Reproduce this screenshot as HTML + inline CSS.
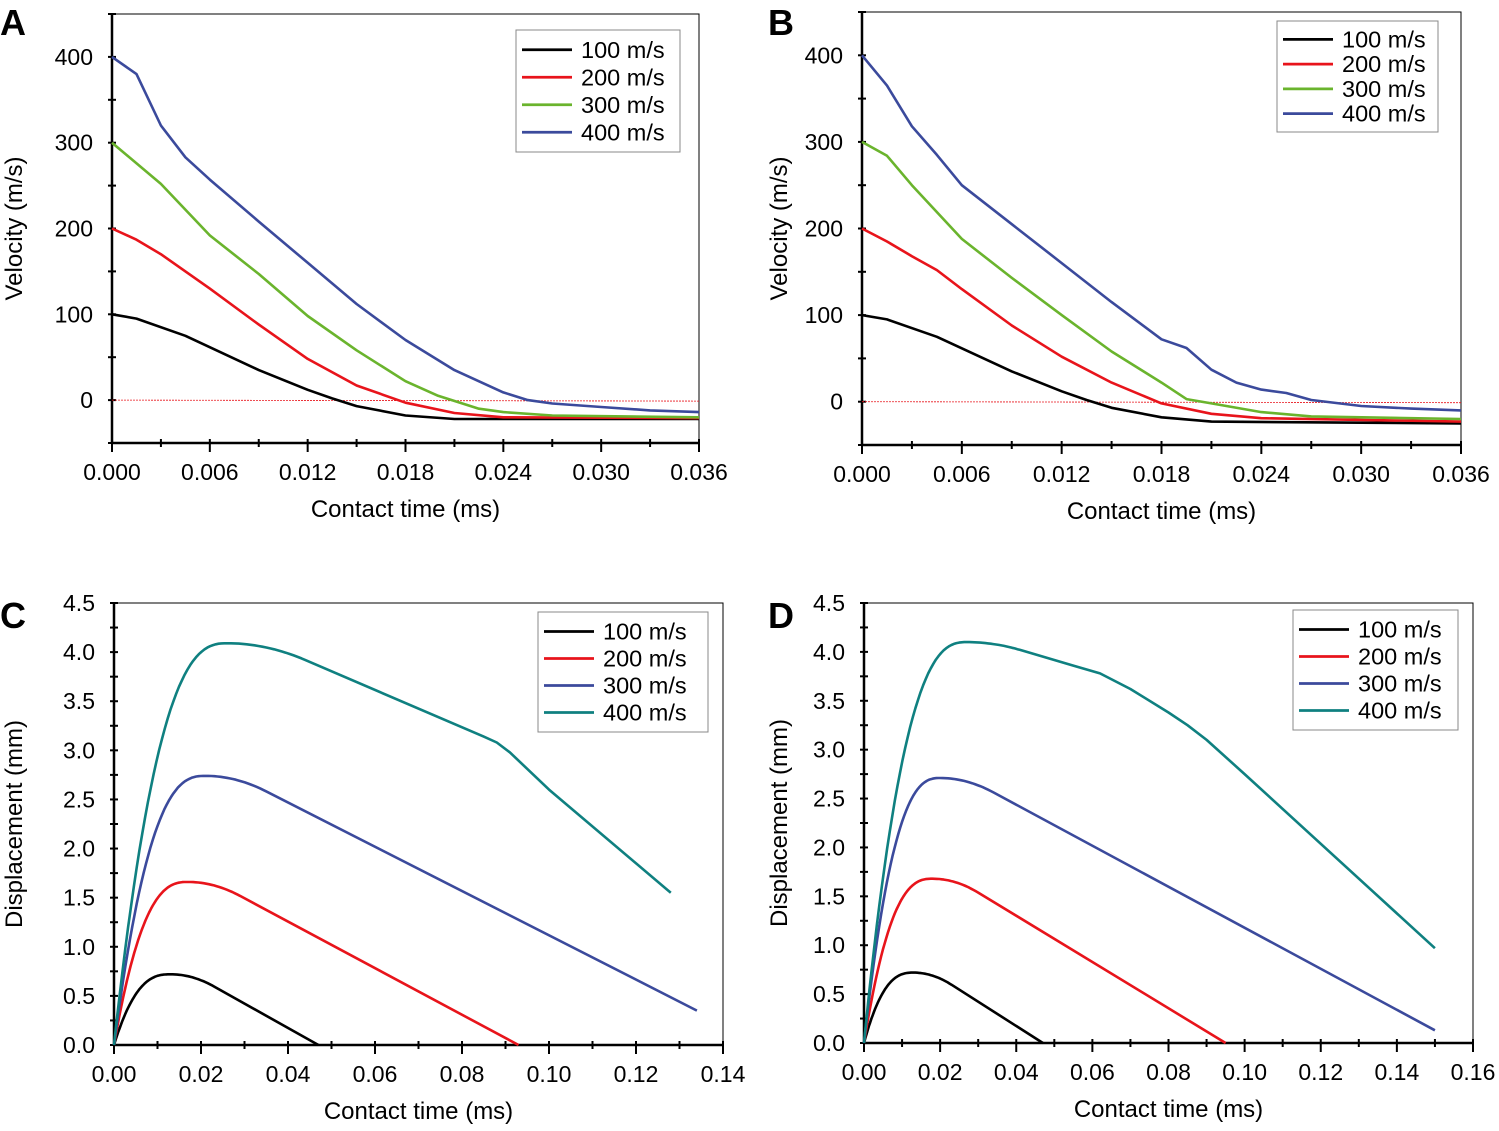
<!DOCTYPE html>
<html><head><meta charset="utf-8"><style>
body{margin:0;background:#fff;}
svg{display:block;font-family:"Liberation Sans",Arial,sans-serif;}
</style></head><body>
<svg id="s" width="1499" height="1131" viewBox="0 0 1499 1131" xmlns="http://www.w3.org/2000/svg"></svg>
<script>
const S=document.getElementById('s');let h='';
const C={k:'#000',r:'#e8141b',g:'#6ab42d',b:'#3b4a9c',t:'#0f8080'};
function panel(p){
 const X=v=>p.l+(v-p.x0)/(p.x1-p.x0)*(p.r-p.l), Y=v=>p.b-(v-p.y0)/(p.y1-p.y0)*(p.b-p.t);
 h+=`<rect x="${p.l}" y="${p.t}" width="${p.r-p.l}" height="${p.b-p.t}" fill="none" stroke="#000" stroke-width="1"/>`;
 h+=`<line x1="${p.l}" y1="${p.t}" x2="${p.l}" y2="${p.b}" stroke="#000" stroke-width="2.5"/>`;
 h+=`<line x1="${p.l}" y1="${p.b}" x2="${p.r}" y2="${p.b}" stroke="#000" stroke-width="2.5"/>`;
 p.yt.forEach((v,i)=>{const y=Y(v);h+=`<line x1="${p.l-4}" y1="${y}" x2="${p.l+4}" y2="${y}" stroke="#000" stroke-width="2"/>`;
  if(p.yl[i]!=null)h+=`<text x="${p.l-19}" y="${y+8}" font-size="23" text-anchor="end">${p.yl[i]}</text>`;});
 p.xt.forEach((v,i)=>{const x=X(v);h+=`<line x1="${x}" y1="${p.b-4}" x2="${x}" y2="${p.b+(p.xl[i]!=null?9:4)}" stroke="#000" stroke-width="2"/>`;
  if(p.xl[i]!=null)h+=`<text x="${x}" y="${p.b+37}" font-size="23" text-anchor="middle">${p.xl[i]}</text>`;});
 if(p.zero)h+=`<line x1="${p.l}" y1="${Y(0)}" x2="${p.r}" y2="${Y(0)+1}" stroke="#e8141b" stroke-width="0.8" stroke-dasharray="2,1"/>`;
 p.ser.forEach(s=>{h+=`<polyline fill="none" stroke="${C[s[0]]}" stroke-width="2.6" stroke-linejoin="round" points="${s[1].map(q=>X(q[0]).toFixed(1)+','+Y(q[1]).toFixed(1)).join(' ')}"/>`;});
 const L=p.leg;h+=`<rect x="${L[0]}" y="${L[1]}" width="${L[2]}" height="${L[3]}" fill="#fff" stroke="#888" stroke-width="1"/>`;
 const dy=(L[3]-12)/4;
 p.ser.forEach((s,i)=>{const y=L[1]+6+dy*(i+0.5);h+=`<line x1="${L[0]+6}" y1="${y}" x2="${L[0]+56}" y2="${y}" stroke="${C[s[0]]}" stroke-width="2.8"/><text x="${L[0]+65}" y="${y+8}" font-size="23.5">${s[2]}</text>`;});
 h+=`<text x="${(p.l+p.r)/2}" y="${p.b+74}" font-size="24" text-anchor="middle">Contact time (ms)</text>`;
 h+=`<text transform="translate(${p.yx},${(p.t+p.b)/2}) rotate(-90)" font-size="24" text-anchor="middle">${p.ylab}</text>`;
 h+=`<text x="${p.lx}" y="${p.ly}" font-size="36" font-weight="bold">${p.let}</text>`;
}
function rng(a,b,s){const r=[];for(let v=a;v<=b+1e-9;v+=s)r.push(+v.toFixed(6));return r;}
function disp(tp,pk,te,ye,d,rest){
 const r=[];for(let i=0;i<=40;i++){const u=i/40;r.push([tp*u,pk*(1-Math.pow(1-u,2.6))]);}
 const m=(ye-pk)/(te-tp-d/2),a=-m/(2*d);
 for(let i=1;i<=20;i++){const t=tp+d*i/20;r.push([t,pk-a*(t-tp)*(t-tp)]);}
 r.push([te,ye]);return r.concat(rest||[]);}
const vx=rng(0,0.036,0.003),vxl=vx.map((v,i)=>i%2==0?v.toFixed(3):null);
const vy=rng(-50,450,50),vyl=vy.map(v=>(v>=0&&v%100==0)?v:null);
const A100=[[0,100],[0.0015,95],[0.0045,75],[0.009,35],[0.012,12],[0.0135,2],[0.015,-7],[0.018,-18],[0.021,-22],[0.036,-22]];
const A200=[[0,200],[0.0015,187],[0.003,170],[0.006,130],[0.009,88],[0.012,48],[0.015,17],[0.018,-3],[0.021,-15],[0.024,-20],[0.036,-21]];
panel({l:112,r:699,t:14,b:443,x0:0,x1:0.036,y0:-50,y1:450,xt:vx,xl:vxl,yt:vy,yl:vyl,zero:1,leg:[516,30,164,122],yx:22,ylab:'Velocity (m/s)',let:'A',lx:0,ly:35,
 ser:[['k',A100,'100 m/s'],['r',A200,'200 m/s'],
 ['g',[[0,300],[0.003,252],[0.006,192],[0.009,147],[0.012,98],[0.015,58],[0.018,22],[0.02,5],[0.0225,-10],[0.024,-14],[0.027,-18],[0.036,-20]],'300 m/s'],
 ['b',[[0,400],[0.0015,380],[0.003,320],[0.0045,283],[0.006,257],[0.009,208],[0.012,160],[0.015,112],[0.018,70],[0.021,35],[0.024,9],[0.0255,0],[0.027,-4],[0.03,-8],[0.033,-12],[0.036,-14]],'400 m/s']]});
panel({l:862,r:1461,t:12,b:445,x0:0,x1:0.036,y0:-50,y1:450,xt:vx,xl:vxl,yt:vy,yl:vyl,zero:1,leg:[1277,21,161,111],yx:787,ylab:'Velocity (m/s)',let:'B',lx:768,ly:35,
 ser:[['k',[[0,100],[0.0015,95],[0.0045,75],[0.009,35],[0.012,12],[0.0135,2],[0.015,-7],[0.018,-18],[0.021,-23],[0.036,-25]],'100 m/s'],
 ['r',[[0,200],[0.0015,185],[0.003,168],[0.0045,152],[0.006,130],[0.009,88],[0.012,52],[0.015,22],[0.018,-2],[0.021,-14],[0.024,-19],[0.036,-23]],'200 m/s'],
 ['g',[[0,300],[0.0015,284],[0.003,250],[0.006,188],[0.009,143],[0.012,100],[0.015,58],[0.018,22],[0.0195,3],[0.021,-2],[0.024,-12],[0.027,-17],[0.036,-20]],'300 m/s'],
 ['b',[[0,400],[0.0015,365],[0.003,318],[0.0045,285],[0.006,250],[0.009,205],[0.012,160],[0.015,115],[0.018,72],[0.0195,62],[0.021,37],[0.0225,22],[0.024,14],[0.0255,10],[0.027,2],[0.03,-5],[0.033,-8],[0.036,-10]],'400 m/s']]});
const dy=rng(0,4.5,0.25),dyl=dy.map((v,i)=>i%2==0?v.toFixed(1):null);
const cx=rng(0,0.14,0.01),cxl=cx.map((v,i)=>i%2==0?v.toFixed(2):null);
panel({l:114,r:723,t:603,b:1045,x0:0,x1:0.14,y0:0,y1:4.5,xt:cx,xl:cxl,yt:dy,yl:dyl,leg:[538,612,170,120],yx:22,ylab:'Displacement (mm)',let:'C',lx:0,ly:628,
 ser:[['k',disp(0.013,0.72,0.047,0,0.01),'100 m/s'],
 ['r',disp(0.017,1.66,0.093,0,0.012),'200 m/s'],
 ['b',disp(0.021,2.74,0.134,0.35,0.014),'300 m/s'],
 ['t',disp(0.026,4.09,0.085,3.14,0.018,[[0.088,3.08],[0.091,2.98],[0.1,2.6],[0.128,1.55]]),'400 m/s']]});
const dx=rng(0,0.16,0.01),dxl=dx.map((v,i)=>i%2==0?v.toFixed(2):null);
panel({l:864,r:1473,t:603,b:1043,x0:0,x1:0.16,y0:0,y1:4.5,xt:dx,xl:dxl,yt:dy,yl:dyl,leg:[1293,610,165,120],yx:787,ylab:'Displacement (mm)',let:'D',lx:768,ly:628,
 ser:[['k',disp(0.013,0.72,0.047,0,0.01),'100 m/s'],
 ['r',disp(0.018,1.68,0.095,0,0.012),'200 m/s'],
 ['b',disp(0.02,2.71,0.15,0.13,0.014),'300 m/s'],
 ['t',disp(0.027,4.1,0.055,3.86,0.014,[[0.062,3.78],[0.07,3.62],[0.08,3.38],[0.085,3.25],[0.09,3.1],[0.1,2.75],[0.15,0.97]]),'400 m/s']]});
S.innerHTML=h;
</script>
</body></html>
